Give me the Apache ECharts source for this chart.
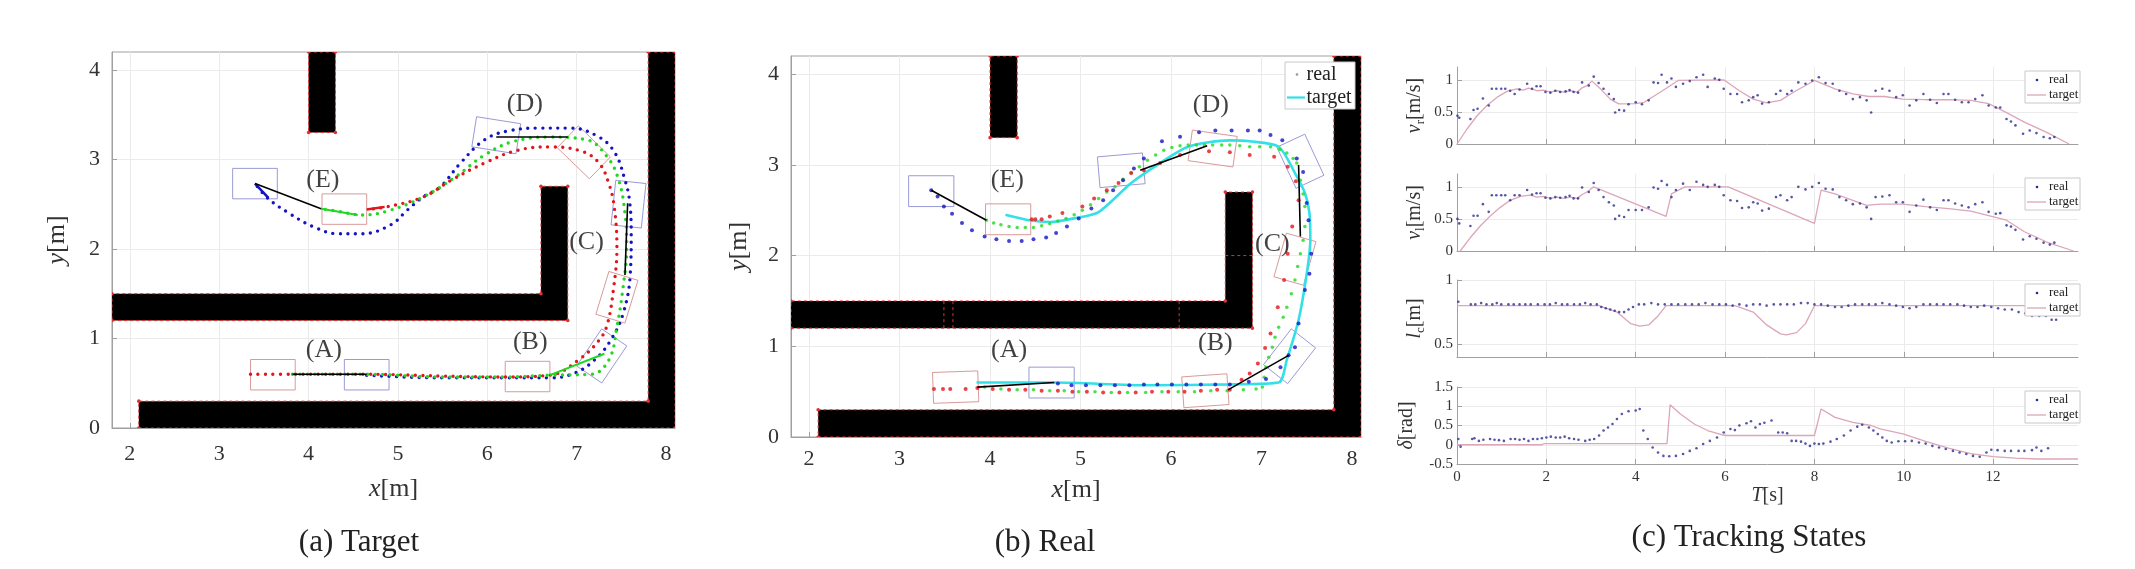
<!DOCTYPE html>
<html>
<head>
<meta charset="utf-8">
<script src="https://cdn.jsdelivr.net/npm/echarts@6/dist/echarts.min.js"></script>
<style>
  html, body { margin: 0; background: #fff; }
  #chart { width: 2135px; height: 569px; }
</style>
</head>
<body>
<div id="chart"></div>
<script>
/* ---------- 数据 ---------- */
// 墙体（a、b 共用）
const walls = [
  [[4.0, 3.3], [4.3, 3.3], [4.3, 4.2], [4.0, 4.2]],
  [[1.8, 1.2], [6.9, 1.2], [6.9, 2.7], [6.6, 2.7], [6.6, 1.5], [1.8, 1.5]],
  [[2.1, 0], [8.1, 0], [8.1, 4.2], [7.8, 4.2], [7.8, 0.3], [2.1, 0.3]]
]
// b 图墙体接缝
const seamsB = [
  [[3.49, 1.2], [3.49, 1.5]],
  [[3.59, 1.2], [3.59, 1.5]],
  [[6.09, 1.2], [6.09, 1.5]],
  [[6.6, 2.0], [6.9, 2.0]]
]
const caseNames = ['(A)', '(B)', '(C)', '(D)', '(E)']

// (a) Target
const caseLabelPosA = [[4.17, 0.87], [6.48, 0.96], [7.11, 2.08], [6.42, 3.62], [4.16, 2.77]]
const redPathA = [[3.35, 0.6], [3.85, 0.6], [4.65, 0.6], [5.5, 0.58], [6.2, 0.57], [6.7, 0.59], [7.02, 0.76], [7.25, 0.98], [7.34, 1.15], [7.41, 1.54], [7.45, 2.02], [7.42, 2.47], [7.36, 2.73], [7.25, 2.96], [7.06, 3.09], [6.7, 3.14], [6.33, 3.1], [5.97, 2.96], [5.6, 2.77], [5.28, 2.58], [4.87, 2.47], [4.65, 2.44]]
const greenPathA = [[3.82, 0.6], [4.65, 0.6], [5.5, 0.57], [6.2, 0.57], [6.7, 0.59], [7.16, 0.6], [7.36, 0.76], [7.45, 1.13], [7.52, 1.58], [7.56, 2.02], [7.54, 2.4], [7.47, 2.77], [7.34, 3.03], [7.11, 3.22], [6.7, 3.25], [6.29, 3.2], [5.97, 3.05], [5.65, 2.81], [5.28, 2.58], [4.87, 2.42], [4.6, 2.38], [4.33, 2.42], [4.14, 2.45]]
const bluePathA = [[4.65, 0.59], [5.5, 0.56], [6.2, 0.56], [6.7, 0.56], [6.97, 0.61], [7.2, 0.76], [7.38, 0.98], [7.52, 1.28], [7.6, 1.73], [7.61, 2.17], [7.59, 2.55], [7.54, 2.77], [7.43, 3.07], [7.25, 3.25], [6.93, 3.35], [6.61, 3.35], [6.24, 3.32], [5.97, 3.22], [5.7, 2.96], [5.47, 2.69], [5.28, 2.58], [5.1, 2.43], [4.92, 2.27], [4.6, 2.17], [4.33, 2.17], [4.05, 2.25], [3.78, 2.4], [3.55, 2.56], [3.4, 2.73]]
const blackSegA = [[[3.82, 0.6], [4.65, 0.6]], [[6.1, 3.25], [6.9, 3.25]], [[7.57, 2.51], [7.54, 1.71]], [[3.4, 2.73], [4.14, 2.45]]]
const greenSegA = [[[6.7, 0.59], [7.31, 0.83]], [[4.14, 2.45], [4.55, 2.38]]]
const redSegA = [[[4.65, 2.44], [4.85, 2.47]]]
const blueSegA = [[[3.4, 2.73], [3.55, 2.57]]]
// 车体框 [cx, cy, 航向角°]
const redBoxesA = [[3.6, 0.595, 0], [6.45, 0.575, 0], [7.45, 1.46, 73], [7.08, 3.08, -44], [4.4, 2.445, 0]]
const blueBoxesA = [[4.65, 0.595, 0], [7.28, 0.805, 56], [7.58, 2.5, 84], [6.1, 3.27, -9], [3.4, 2.73, 0]]

// (b) Real
const caseLabelPosB = [[4.21, 0.96], [6.49, 1.03], [7.12, 2.13], [6.44, 3.66], [4.19, 2.83]]
const targetLineB = [[3.85, 0.6], [4.71, 0.6], [5.74, 0.57], [6.65, 0.58], [7.19, 0.6], [7.28, 0.85], [7.41, 1.29], [7.5, 1.8], [7.54, 2.17], [7.53, 2.47], [7.48, 2.69], [7.37, 2.91], [7.19, 3.2], [6.87, 3.26], [6.65, 3.27], [6.19, 3.2], [5.88, 3.02], [5.56, 2.8], [5.2, 2.48], [4.93, 2.41], [4.66, 2.37], [4.43, 2.39], [4.17, 2.45]]
const redDotsB = [[3.38, 0.53], [3.48, 0.53], [3.56, 0.53], [3.73, 0.53], [3.86, 0.54], [4.03, 0.53], [4.21, 0.52], [4.39, 0.52], [4.57, 0.51], [4.75, 0.51], [4.91, 0.5], [5.07, 0.5], [5.25, 0.49], [5.43, 0.49], [5.61, 0.49], [5.79, 0.5], [5.97, 0.5], [6.15, 0.5], [6.33, 0.51], [6.51, 0.52], [6.65, 0.52], [6.78, 0.63], [6.87, 0.7], [6.96, 0.81], [7.04, 0.98], [7.1, 1.14], [7.18, 1.43], [7.25, 1.73], [7.29, 2.02], [7.34, 2.32], [7.41, 2.61], [7.38, 2.82], [7.29, 2.98], [7.14, 3.09], [6.87, 3.11], [6.65, 3.14], [6.42, 3.15], [6.1, 3.11], [5.88, 3.02], [5.7, 2.94], [5.56, 2.91], [5.42, 2.8], [5.29, 2.72], [5.15, 2.63], [5.02, 2.54], [4.8, 2.47], [4.66, 2.43], [4.57, 2.4], [4.5, 2.4], [4.46, 2.4]]
const blueDotsB = [[3.35, 2.72], [3.42, 2.65], [3.49, 2.54], [3.58, 2.46], [3.69, 2.36], [3.8, 2.28], [3.94, 2.21], [4.07, 2.18], [4.21, 2.16], [4.35, 2.16], [4.48, 2.18], [4.62, 2.2], [4.73, 2.25], [4.85, 2.32], [4.98, 2.41], [5.12, 2.52], [5.25, 2.61], [5.36, 2.72], [5.47, 2.83], [5.59, 2.96], [5.7, 3.07], [5.9, 3.26], [6.1, 3.31], [6.31, 3.36], [6.49, 3.38], [6.67, 3.38], [6.85, 3.38], [6.98, 3.38], [7.1, 3.33], [7.23, 3.27], [7.39, 3.07], [7.46, 2.92], [7.5, 2.58], [7.52, 2.39], [7.55, 2.02], [7.53, 1.8], [7.48, 1.62], [7.41, 1.25], [7.37, 0.99], [7.3, 0.9], [7.21, 0.77], [7.05, 0.64], [6.86, 0.61], [6.65, 0.58], [6.49, 0.58], [6.33, 0.58], [6.17, 0.58], [6.01, 0.58], [5.85, 0.58], [5.7, 0.58], [5.54, 0.57], [5.38, 0.57], [5.22, 0.57], [5.06, 0.57], [4.9, 0.57], [4.75, 0.59]]
const greenDotsB = [[3.96, 2.39], [4.04, 2.36], [4.12, 2.34], [4.21, 2.32], [4.3, 2.31], [4.39, 2.31], [4.48, 2.31], [4.57, 2.33], [4.66, 2.35], [4.75, 2.38], [4.84, 2.41], [4.93, 2.45], [5.02, 2.5], [5.11, 2.56], [5.2, 2.63], [5.29, 2.7], [5.38, 2.76], [5.47, 2.84], [5.56, 2.91], [5.65, 2.98], [5.74, 3.05], [5.83, 3.11], [5.92, 3.16], [6.01, 3.19], [6.1, 3.21], [6.19, 3.22], [6.28, 3.22], [6.37, 3.22], [6.46, 3.22], [6.56, 3.22], [6.65, 3.22], [6.76, 3.21], [6.87, 3.2], [6.98, 3.2], [7.1, 3.2], [7.2, 3.17], [7.28, 3.13], [7.35, 3.07], [7.39, 3.02], [7.43, 2.83], [7.46, 2.68], [7.48, 2.54], [7.48, 2.32], [7.46, 2.17], [7.43, 2.02], [7.4, 1.88], [7.37, 1.73], [7.33, 1.58], [7.28, 1.43], [7.24, 1.32], [7.19, 1.21], [7.15, 1.1], [7.12, 0.99], [7.08, 0.88], [7.05, 0.77], [7.03, 0.66], [7.01, 0.55], [6.94, 0.53], [6.8, 0.52], [6.62, 0.51], [6.44, 0.51], [6.26, 0.5], [6.08, 0.5], [5.9, 0.5], [5.72, 0.49], [5.52, 0.49], [5.34, 0.49], [5.16, 0.5], [4.98, 0.5], [4.82, 0.51], [4.66, 0.51], [4.48, 0.52], [4.3, 0.52], [4.12, 0.53], [3.94, 0.55]]
const blackSegB = [[[3.86, 0.55], [4.71, 0.6]], [[6.63, 0.52], [7.3, 0.9]], [[7.41, 3.0], [7.43, 2.21]], [[5.66, 2.94], [6.4, 3.21]], [[3.35, 2.72], [3.96, 2.39]]]
const redBoxesB = [[3.62, 0.55, 2], [6.38, 0.51, 4], [7.37, 1.96, 74], [6.46, 3.18, -8], [4.2, 2.4, 0]]
const blueBoxesB = [[4.68, 0.6, 0], [7.31, 0.89, 52], [7.43, 3.04, -65], [5.45, 2.94, 5], [3.35, 2.71, 0]]

// (c) Tracking States  [T, 值]
const vrTarget = [[0, 0], [0.22, 0.23], [0.45, 0.44], [0.67, 0.6], [0.9, 0.73], [1.12, 0.82], [1.34, 0.86], [1.49, 0.84], [1.6, 0.87], [1.79, 0.83], [1.94, 0.84], [2.09, 0.81], [2.24, 0.83], [2.39, 0.81], [2.54, 0.83], [2.69, 0.81], [2.8, 0.875], [2.91, 0.91], [3.02, 0.98], [3.21, 0.86], [3.43, 0.7], [3.62, 0.625], [4.0, 0.63], [4.19, 0.65], [4.6, 0.83], [4.95, 0.99], [5.97, 1.0], [6.32, 0.83], [6.63, 0.7], [6.93, 0.64], [7.24, 0.68], [7.54, 0.81], [8.0, 0.99], [8.46, 0.86], [8.86, 0.78], [9.22, 0.74], [9.57, 0.74], [9.98, 0.7], [10.49, 0.69], [11.0, 0.69], [11.5, 0.68], [11.9, 0.63], [12.3, 0.49], [12.7, 0.34], [13.2, 0.18], [13.7, 0]]
const vrReal = [[0.01, 0.44], [0.05, 0.41], [0.3, 0.39], [0.37, 0.53], [0.46, 0.55], [0.58, 0.71], [0.71, 0.6], [0.78, 0.86], [0.88, 0.86], [0.99, 0.86], [1.08, 0.86], [1.19, 0.83], [1.29, 0.78], [1.4, 0.85], [1.57, 0.94], [1.68, 0.86], [1.78, 0.9], [1.87, 0.9], [1.98, 0.81], [2.09, 0.8], [2.2, 0.83], [2.31, 0.81], [2.43, 0.82], [2.52, 0.84], [2.61, 0.81], [2.71, 0.8], [2.8, 0.96], [2.95, 0.91], [3.06, 1.05], [3.17, 0.95], [3.28, 0.86], [3.4, 0.78], [3.51, 0.7], [3.54, 0.49], [3.63, 0.53], [3.74, 0.52], [3.84, 0.62], [4.0, 0.65], [4.14, 0.62], [4.29, 0.68], [4.4, 0.96], [4.5, 0.95], [4.58, 1.08], [4.7, 0.96], [4.8, 1.02], [4.9, 0.89], [5.06, 0.94], [5.21, 0.98], [5.36, 1.04], [5.51, 1.08], [5.61, 0.89], [5.77, 1.02], [5.87, 1.0], [5.97, 0.86], [6.12, 0.78], [6.27, 0.78], [6.38, 0.65], [6.53, 0.68], [6.63, 0.73], [6.73, 0.76], [6.83, 0.63], [6.98, 0.65], [7.14, 0.78], [7.24, 0.83], [7.39, 0.78], [7.49, 0.83], [7.64, 0.96], [7.8, 0.94], [7.95, 0.99], [8.1, 1.04], [8.25, 0.95], [8.41, 0.94], [8.56, 0.83], [8.71, 0.78], [8.86, 0.7], [9.02, 0.73], [9.17, 0.68], [9.27, 0.49], [9.37, 0.83], [9.52, 0.86], [9.68, 0.83], [9.83, 0.73], [9.98, 0.76], [10.13, 0.6], [10.28, 0.68], [10.44, 0.78], [10.59, 0.69], [10.74, 0.64], [10.89, 0.78], [11.0, 0.78], [11.15, 0.69], [11.3, 0.65], [11.45, 0.65], [11.6, 0.7], [11.76, 0.76], [11.9, 0.6], [12.06, 0.57], [12.16, 0.57], [12.3, 0.39], [12.4, 0.35], [12.5, 0.29], [12.67, 0.16], [12.82, 0.21], [12.97, 0.17], [13.13, 0.11], [13.27, 0.09], [13.37, 0.11]]
const vlTarget = [[0.07, 0], [0.3, 0.21], [0.52, 0.39], [0.75, 0.55], [0.97, 0.68], [1.19, 0.79], [1.42, 0.85], [1.64, 0.87], [1.79, 0.84], [1.94, 0.85], [2.09, 0.82], [2.24, 0.84], [2.39, 0.82], [2.54, 0.84], [2.69, 0.82], [2.8, 0.88], [2.91, 0.92], [3.06, 1.0], [4.68, 0.54], [4.8, 0.89], [5.1, 1.0], [6.07, 1.0], [8.0, 0.43], [8.15, 0.95], [8.46, 0.89], [8.86, 0.79], [9.17, 0.71], [9.47, 0.73], [9.98, 0.73], [10.49, 0.69], [11.0, 0.66], [11.5, 0.62], [11.9, 0.55], [12.3, 0.48], [12.7, 0.3], [13.2, 0.14], [13.8, 0]]
const vlReal = [[0.01, 0.5], [0.05, 0.43], [0.3, 0.39], [0.37, 0.55], [0.46, 0.55], [0.58, 0.73], [0.71, 0.61], [0.78, 0.87], [0.88, 0.87], [0.99, 0.87], [1.08, 0.87], [1.19, 0.79], [1.29, 0.87], [1.4, 0.87], [1.57, 0.95], [1.68, 0.88], [1.78, 0.9], [1.87, 0.9], [1.98, 0.83], [2.09, 0.82], [2.2, 0.84], [2.31, 0.83], [2.43, 0.84], [2.52, 0.86], [2.61, 0.82], [2.71, 0.82], [2.8, 0.99], [2.95, 0.92], [3.06, 1.06], [3.17, 0.95], [3.28, 0.84], [3.4, 0.76], [3.51, 0.71], [3.54, 0.5], [3.63, 0.55], [3.74, 0.53], [3.84, 0.64], [4.0, 0.64], [4.14, 0.64], [4.29, 0.68], [4.4, 0.99], [4.5, 0.97], [4.58, 1.09], [4.7, 1.03], [4.8, 0.84], [4.9, 0.95], [5.06, 1.05], [5.21, 0.95], [5.36, 1.08], [5.51, 1.03], [5.61, 1.0], [5.77, 1.03], [5.87, 1.0], [5.97, 0.87], [6.12, 0.79], [6.27, 0.78], [6.38, 0.67], [6.53, 0.68], [6.63, 0.76], [6.73, 0.74], [6.83, 0.63], [6.98, 0.66], [7.14, 0.84], [7.24, 0.87], [7.39, 0.79], [7.49, 0.84], [7.64, 1.0], [7.8, 0.96], [7.95, 1.0], [8.1, 1.06], [8.25, 0.97], [8.41, 0.96], [8.56, 0.84], [8.71, 0.79], [8.86, 0.73], [9.02, 0.74], [9.17, 0.68], [9.27, 0.5], [9.37, 0.84], [9.52, 0.85], [9.68, 0.87], [9.83, 0.76], [9.98, 0.76], [10.13, 0.61], [10.28, 0.71], [10.44, 0.8], [10.59, 0.68], [10.74, 0.64], [10.89, 0.79], [11.0, 0.79], [11.15, 0.74], [11.3, 0.71], [11.45, 0.68], [11.6, 0.73], [11.76, 0.76], [11.9, 0.61], [12.06, 0.58], [12.16, 0.59], [12.3, 0.4], [12.4, 0.38], [12.5, 0.33], [12.67, 0.18], [12.82, 0.23], [12.97, 0.19], [13.13, 0.13], [13.27, 0.1], [13.37, 0.13]]
const lcTarget = [[0, 0.8], [3.18, 0.8], [3.58, 0.75], [3.89, 0.66], [4.09, 0.64], [4.29, 0.65], [4.5, 0.72], [4.68, 0.8], [6.22, 0.8], [6.63, 0.75], [6.93, 0.65], [7.24, 0.58], [7.37, 0.573], [7.6, 0.59], [7.8, 0.66], [8.0, 0.8], [13.9, 0.8]]
const lcReal = [[0.03, 0.83], [0.31, 0.81], [0.41, 0.81], [0.54, 0.82], [0.66, 0.81], [0.79, 0.81], [0.89, 0.82], [0.99, 0.81], [1.15, 0.81], [1.27, 0.81], [1.4, 0.81], [1.53, 0.81], [1.65, 0.81], [1.81, 0.81], [1.96, 0.81], [2.08, 0.81], [2.21, 0.82], [2.35, 0.81], [2.47, 0.81], [2.62, 0.81], [2.75, 0.81], [2.87, 0.82], [2.99, 0.81], [3.13, 0.81], [3.23, 0.79], [3.33, 0.78], [3.43, 0.77], [3.53, 0.76], [3.63, 0.75], [3.74, 0.75], [3.84, 0.77], [3.94, 0.79], [4.07, 0.81], [4.19, 0.81], [4.35, 0.82], [4.5, 0.81], [4.65, 0.81], [4.8, 0.81], [4.95, 0.81], [5.11, 0.81], [5.26, 0.81], [5.41, 0.81], [5.56, 0.82], [5.72, 0.81], [5.87, 0.81], [6.02, 0.81], [6.17, 0.8], [6.32, 0.81], [6.48, 0.8], [6.63, 0.81], [6.78, 0.81], [6.93, 0.8], [7.09, 0.81], [7.24, 0.81], [7.39, 0.81], [7.54, 0.81], [7.7, 0.82], [7.85, 0.82], [8.0, 0.81], [8.15, 0.81], [8.3, 0.8], [8.46, 0.79], [8.61, 0.79], [8.76, 0.8], [8.91, 0.81], [9.07, 0.81], [9.22, 0.81], [9.37, 0.81], [9.52, 0.82], [9.68, 0.81], [9.83, 0.8], [9.98, 0.79], [10.13, 0.78], [10.28, 0.79], [10.44, 0.81], [10.59, 0.81], [10.74, 0.81], [10.89, 0.81], [11.04, 0.81], [11.2, 0.81], [11.35, 0.8], [11.5, 0.79], [11.65, 0.79], [11.8, 0.8], [11.96, 0.79], [12.11, 0.78], [12.26, 0.77], [12.42, 0.77], [12.57, 0.75], [12.72, 0.74], [12.87, 0.72], [13.03, 0.72], [13.18, 0.72], [13.31, 0.69], [13.41, 0.69]]
const deltaTarget = [[0, 0], [1.9, 0], [1.95, 0.03], [4.7, 0.03], [4.77, 1.04], [5.0, 0.8], [5.31, 0.54], [5.61, 0.37], [5.92, 0.26], [6.02, 0.24], [8.0, 0.24], [8.15, 0.93], [8.46, 0.71], [8.86, 0.58], [9.27, 0.5], [9.47, 0.41], [9.98, 0.28], [10.49, 0.09], [11.0, -0.09], [11.5, -0.23], [12.0, -0.31], [12.5, -0.35], [13.0, -0.37], [13.9, -0.37]]
const deltaReal = [[0.03, 0.15], [0.08, -0.05], [0.34, 0.15], [0.39, 0.17], [0.49, 0.1], [0.59, 0.13], [0.74, 0.15], [0.84, 0.13], [0.94, 0.12], [1.05, 0.1], [1.2, 0.15], [1.3, 0.15], [1.4, 0.13], [1.5, 0.15], [1.6, 0.1], [1.7, 0.15], [1.8, 0.15], [1.9, 0.17], [2.0, 0.19], [2.1, 0.21], [2.21, 0.19], [2.31, 0.19], [2.41, 0.21], [2.51, 0.17], [2.62, 0.15], [2.72, 0.13], [2.87, 0.1], [2.97, 0.13], [3.07, 0.15], [3.18, 0.24], [3.28, 0.37], [3.38, 0.45], [3.48, 0.54], [3.58, 0.67], [3.69, 0.8], [3.84, 0.87], [4.0, 0.89], [4.09, 0.93], [4.17, 0.37], [4.27, 0.15], [4.38, -0.07], [4.5, -0.2], [4.62, -0.29], [4.75, -0.3], [4.9, -0.29], [5.06, -0.24], [5.21, -0.16], [5.36, -0.09], [5.51, 0.02], [5.66, 0.1], [5.82, 0.19], [5.97, 0.32], [6.12, 0.41], [6.22, 0.38], [6.32, 0.5], [6.48, 0.56], [6.58, 0.61], [6.68, 0.45], [6.78, 0.54], [6.88, 0.57], [7.04, 0.63], [7.19, 0.32], [7.29, 0.32], [7.39, 0.3], [7.49, 0.1], [7.59, 0.1], [7.7, 0.08], [7.8, 0.03], [7.9, -0.03], [8.0, 0.03], [8.1, 0.02], [8.2, 0.03], [8.36, 0.08], [8.5, 0.15], [8.66, 0.24], [8.81, 0.37], [8.96, 0.47], [9.07, 0.52], [9.22, 0.45], [9.32, 0.37], [9.42, 0.28], [9.52, 0.19], [9.62, 0.1], [9.73, 0.06], [9.88, 0.09], [10.03, 0.09], [10.18, 0.1], [10.34, 0.06], [10.49, 0.03], [10.64, -0.03], [10.79, -0.07], [10.94, -0.11], [11.1, -0.16], [11.25, -0.2], [11.4, -0.24], [11.55, -0.29], [11.7, -0.31], [11.85, -0.2], [11.96, -0.13], [12.1, -0.14], [12.26, -0.16], [12.4, -0.16], [12.57, -0.16], [12.7, -0.16], [12.87, -0.14], [12.97, -0.07], [13.08, -0.16], [13.23, -0.09]]

const mapTicks = [2, 3, 4, 5, 6, 7, 8]
const mapYTicks = [0, 1, 2, 3, 4]
const timeTicks = [0, 2, 4, 6, 8, 10, 12]
const stateYTicks = [[0, 0.5, 1], [0, 0.5, 1], [0.5, 1], [-0.5, 0, 0.5, 1, 1.5]]
const stateYRange = [[0, 1.2], [0, 1.2], [0.4, 1.0], [-0.5, 1.5]]
const stateNames = ['{i|v}{s|r}[m/s]', '{i|v}{s|l}[m/s]', '{i|l}{s|c}[m]', '{i|δ}[rad]']
const legendNames = ['real', 'target']
const captions = ['(a) Target', '(b) Real', '(c) Tracking States']

/* ---------- 样式 ---------- */
const FONT = '"Liberation Serif", "Times New Roman", serif'
const AXIS_COLOR = '#a0a0a0'
const GRID_COLOR = '#ebebeb'
const LABEL_COLOR = '#333'
const RED = '#e3141b', GREEN = '#1fd81f', BLUE = '#1414c4'
const BOX_RED = '#d99a9a', BOX_BLUE = '#9a9ad6'
const BODY_L = 0.5, BODY_W = 0.34

const gridA = { left: 112, top: 52, width: 563, height: 376 }
const gridB = { left: 791, top: 56, width: 570, height: 381 }
const stateTops = [67, 174, 280, 387]
const stateLeft = 1457, stateWidth = 621, stateHeight = 77

const chart = echarts.init(document.getElementById('chart'))

const nameStyle = (size) => ({
  fontFamily: FONT, fontSize: size, color: LABEL_COLOR,
  rich: {
    i: { fontFamily: FONT, fontSize: size, fontStyle: 'italic', color: LABEL_COLOR, lineHeight: size + 4 },
    s: { fontFamily: FONT, fontSize: Math.round(size * 0.65), color: LABEL_COLOR, verticalAlign: 'bottom', lineHeight: Math.round(size * 0.7) }
  }
})

// 坐标轴
const valueAxis = o => ({
  type: 'value',
  gridIndex: o.grid,
  min: o.min,
  max: o.max,
  axisLine: { show: true, onZero: false, lineStyle: { color: AXIS_COLOR, width: 1 } },
  axisTick: { show: true, inside: true, length: 5, customValues: o.ticks, lineStyle: { color: AXIS_COLOR } },
  axisLabel: { show: o.labels !== false, customValues: o.ticks, margin: o.margin, fontFamily: FONT, fontSize: o.fontSize, color: LABEL_COLOR },
  splitLine: { show: true, lineStyle: { color: GRID_COLOR, width: 1 } },
  name: o.name || '',
  nameLocation: 'middle',
  nameGap: o.nameGap || 0,
  nameTextStyle: nameStyle(o.nameSize || 20)
})

const xAxis = [
  valueAxis({ grid: 0, min: 1.8, max: 8.1, ticks: mapTicks, margin: 15, fontSize: 22, name: '{i|x}[m]', nameGap: 46, nameSize: 26 }),
  valueAxis({ grid: 1, min: 1.8, max: 8.1, ticks: mapTicks, margin: 11, fontSize: 22, name: '{i|x}[m]', nameGap: 38, nameSize: 26 })
]
const yAxis = [
  valueAxis({ grid: 0, min: 0, max: 4.2, ticks: mapYTicks, margin: 12, fontSize: 22, name: '{i|y}[m]', nameGap: 40, nameSize: 26 }),
  valueAxis({ grid: 1, min: 0, max: 4.2, ticks: mapYTicks, margin: 12, fontSize: 22, name: '{i|y}[m]', nameGap: 37, nameSize: 26 })
]
stateTops.forEach((t, i) => {
  const last = i === stateTops.length - 1
  xAxis.push(valueAxis({ grid: 2 + i, min: 0, max: 13.9, ticks: timeTicks, labels: last, margin: 6, fontSize: 15, name: last ? '{i|T}[s]' : '', nameGap: 20, nameSize: 20 }))
  yAxis.push(valueAxis({ grid: 2 + i, min: stateYRange[i][0], max: stateYRange[i][1], ticks: stateYTicks[i], margin: 4, fontSize: 15, name: stateNames[i], nameGap: last ? 38 : 30, nameSize: 20 }))
})

const grid = [
  Object.assign({ show: true, borderColor: AXIS_COLOR, borderWidth: 1, outerBoundsMode: 'none' }, gridA),
  Object.assign({ show: true, borderColor: AXIS_COLOR, borderWidth: 1, outerBoundsMode: 'none' }, gridB)
]
stateTops.forEach(t => grid.push({ left: stateLeft, top: t, width: stateWidth, height: stateHeight, outerBoundsMode: 'none' }))

/* ---------- 系列 ---------- */
const renderWall = (params, api) => {
  const poly = walls[api.value(2)].map(p => api.coord(p))
  return {
    type: 'group',
    children: [
      { type: 'polygon', shape: { points: poly }, style: { fill: '#000', stroke: '#e03030', lineWidth: 1, lineDash: [3, 3] } }
    ].concat(poly.map(p => ({ type: 'circle', shape: { cx: p[0], cy: p[1], r: 1.8 }, style: { fill: '#e03030' } })))
  }
}
const wallSeries = idx => ({
  type: 'custom', xAxisIndex: idx, yAxisIndex: idx, clip: true, z: 1, silent: true,
  renderItem: renderWall,
  data: walls.map((w, i) => [w[0][0], w[0][1], i])
})
const seamSeries = segs => segs.map(s => ({
  type: 'line', xAxisIndex: 1, yAxisIndex: 1, data: s, showSymbol: false, z: 2, silent: true,
  lineStyle: { color: '#e03030', width: 1, type: [3, 3] }
}))

const boxSeries = (idx, boxes, color) => ({
  type: 'custom', xAxisIndex: idx, yAxisIndex: idx, clip: true, z: 3, silent: true,
  renderItem: (params, api) => {
    const cx = api.value(0), cy = api.value(1), th = api.value(2) * Math.PI / 180
    const c = Math.cos(th), s = Math.sin(th)
    const pts = [[1, 1], [-1, 1], [-1, -1], [1, -1]].map(([u, v]) => api.coord([
      cx + u * BODY_L / 2 * c - v * BODY_W / 2 * s,
      cy + u * BODY_L / 2 * s + v * BODY_W / 2 * c
    ]))
    return { type: 'polygon', shape: { points: pts }, style: { fill: 'none', stroke: color, lineWidth: 1 } }
  },
  data: boxes
})

const dottedPath = (data, color) => ({
  type: 'line', xAxisIndex: 0, yAxisIndex: 0, data, smooth: 0.4, showSymbol: false, z: 5, silent: true,
  lineStyle: { color, width: 3.4, type: [0, 7.5], cap: 'round' }
})
const segSeries = (idx, segs, color, width) => segs.map(s => ({
  type: 'line', xAxisIndex: idx, yAxisIndex: idx, data: s, showSymbol: false, z: 6, silent: true,
  lineStyle: { color, width }
}))
const dotSeries = (data, color, size) => ({
  type: 'scatter', xAxisIndex: 1, yAxisIndex: 1, data, symbolSize: size, z: 5, silent: true,
  itemStyle: { color }
})
const caseLabels = (idx, pos) => ({
  type: 'scatter', xAxisIndex: idx, yAxisIndex: idx, symbolSize: 1, z: 8, silent: true,
  itemStyle: { color: 'transparent' },
  label: { show: true, position: 'inside', formatter: p => p.name, fontFamily: FONT, fontSize: 26, color: '#111' },
  data: pos.map((p, i) => ({ name: caseNames[i], value: p }))
})

const series = [
  wallSeries(0),
  boxSeries(0, redBoxesA, BOX_RED),
  boxSeries(0, blueBoxesA, BOX_BLUE),
  dottedPath(bluePathA, BLUE),
  dottedPath(greenPathA, GREEN),
  dottedPath(redPathA, RED),
  ...segSeries(0, greenSegA, GREEN, 2),
  ...segSeries(0, redSegA, RED, 2.5),
  ...segSeries(0, blueSegA, BLUE, 2.5),
  ...segSeries(0, blackSegA, '#000', 1.6),
  caseLabels(0, caseLabelPosA),

  wallSeries(1),
  ...seamSeries(seamsB),
  boxSeries(1, redBoxesB, BOX_RED),
  boxSeries(1, blueBoxesB, BOX_BLUE),
  {
    type: 'line', xAxisIndex: 1, yAxisIndex: 1, data: targetLineB, smooth: 0.25, showSymbol: false, z: 4, silent: true,
    lineStyle: { color: '#33e0e8', width: 2.6 }
  },
  dotSeries(greenDotsB, GREEN, 3.5),
  dotSeries(redDotsB, RED, 4),
  dotSeries(blueDotsB, BLUE, 4),
  ...segSeries(1, blackSegB, '#000', 1.6),
  caseLabels(1, caseLabelPosB)
]

const stateTargets = [vrTarget, vlTarget, lcTarget, deltaTarget]
const stateReals = [vrReal, vlReal, lcReal, deltaReal]
stateTops.forEach((t, i) => {
  series.push({
    type: 'line', xAxisIndex: 2 + i, yAxisIndex: 2 + i, data: stateTargets[i], showSymbol: false, silent: true, z: 3,
    lineStyle: { color: '#dca6b9', width: 1.3 }
  })
  series.push({
    type: 'scatter', xAxisIndex: 2 + i, yAxisIndex: 2 + i, data: stateReals[i], symbolSize: 2.6, silent: true, z: 4,
    itemStyle: { color: '#2c2c8e' }
  })
})

/* ---------- 图例、标题 ---------- */
const TOP_Z = 100
const txt = (x, y, text, size, align) => ({
  type: 'text', x, y, z: TOP_Z,
  style: { text, font: size + 'px ' + FONT, fill: '#222', align: align || 'left', verticalAlign: 'middle', textAlign: align || 'left', textVerticalAlign: 'middle' }
})
const legendState = top => ({
  type: 'group', x: 2025, y: top + 4, z: TOP_Z,
  children: [
    { type: 'rect', z: TOP_Z, shape: { x: 0, y: 0, width: 55, height: 32 }, style: { fill: '#fff', stroke: '#c8c8c8', lineWidth: 1 } },
    { type: 'circle', z: TOP_Z + 1, shape: { cx: 12, cy: 9, r: 1.3 }, style: { fill: '#2c2c8e' } },
    Object.assign(txt(24, 9, legendNames[0], 13), { z: TOP_Z + 1 }),
    { type: 'line', z: TOP_Z + 1, shape: { x1: 2, y1: 24, x2: 21, y2: 24 }, style: { stroke: '#dca6b9', lineWidth: 1.3 } },
    Object.assign(txt(24, 24, legendNames[1], 13), { z: TOP_Z + 1 })
  ]
})
const graphic = [
  {
    type: 'group', x: 1285, y: 62, z: TOP_Z,
    children: [
      { type: 'rect', z: TOP_Z, shape: { x: 0, y: 0, width: 70, height: 47 }, style: { fill: '#fff', stroke: '#c8c8c8', lineWidth: 1 } },
      { type: 'circle', z: TOP_Z + 1, shape: { cx: 12, cy: 12.5, r: 1.3 }, style: { fill: '#999' } },
      Object.assign(txt(21.5, 12.5, legendNames[0], 20), { z: TOP_Z + 1 }),
      { type: 'line', z: TOP_Z + 1, shape: { x1: 2, y1: 35.5, x2: 20, y2: 35.5 }, style: { stroke: '#33e0e8', lineWidth: 2.2 } },
      Object.assign(txt(21.5, 35.5, legendNames[1], 20), { z: TOP_Z + 1 })
    ]
  },
  ...stateTops.map(legendState),
  txt(359, 543, captions[0], 31, 'center'),
  txt(1045, 543, captions[1], 31, 'center'),
  txt(1749, 538, captions[2], 31, 'center')
]

chart.setOption({
  animation: false,
  backgroundColor: '#fff',
  grid,
  xAxis,
  yAxis,
  series,
  graphic
})
</script>
</body>
</html>
